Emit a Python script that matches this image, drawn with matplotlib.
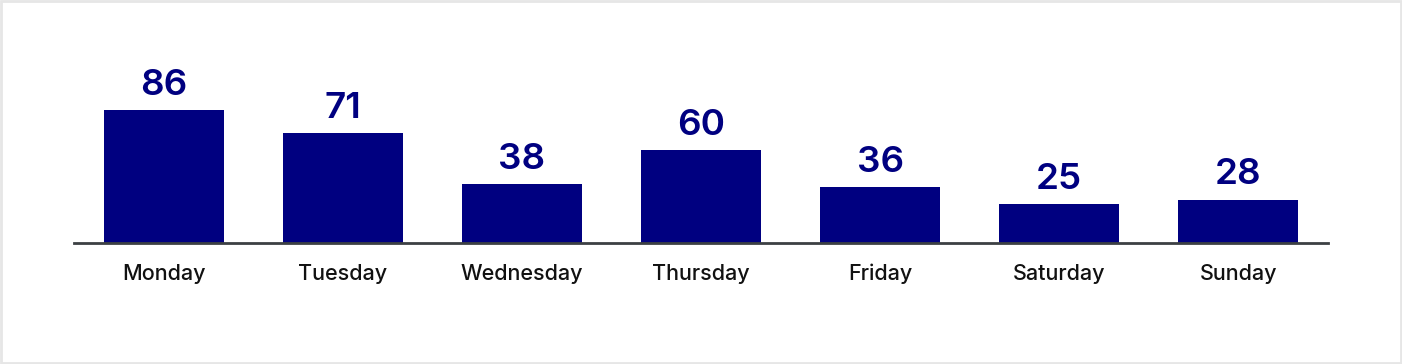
import matplotlib
matplotlib.use("Agg")
import matplotlib.pyplot as plt
from matplotlib.patches import Rectangle

days = ["Monday", "Tuesday", "Wednesday", "Thursday", "Friday", "Saturday", "Sunday"]
counts = [86, 71, 38, 60, 36, 25, 28]

plt.rcParams['font.family'] = ['Inter', 'DejaVu Sans']

W, H = 1402, 364
fig = plt.figure(figsize=(W / 100, H / 100), dpi=100)

# light border around the card
fig.patches.append(Rectangle((1 / W, 1 / H), 1 - 2 / W, 1 - 2 / H, transform=fig.transFigure,
                             fill=False, edgecolor="#e6e6e6", linewidth=2))

ymax = 100
ax = fig.add_axes([74 / W, 121 / H, (1328 - 74) / W, 154.7 / H])
bars = ax.bar(range(len(days)), counts, width=0.67, color="#000080")
ax.set_xlim(-0.5, len(days) - 0.5)
ax.set_ylim(0, ymax)

for b, v in zip(bars, counts):
    ax.annotate(str(v), (b.get_x() + b.get_width() / 2, v), xytext=(0, 6),
                textcoords="offset points", ha="center", va="bottom",
                fontsize=26.5, fontweight="semibold", color="#000080", annotation_clip=False)

for s in ["top", "right", "left"]:
    ax.spines[s].set_visible(False)
ax.spines["bottom"].set_color("#3c4043")
ax.spines["bottom"].set_linewidth(2)
ax.set_yticks([])
ax.set_xticks(range(len(days)))
ax.set_xticklabels(days, fontsize=15.5, fontweight="medium", color="#111111")
ax.tick_params(axis="x", length=0, pad=15)

fig.savefig("out.png", dpi=100)
